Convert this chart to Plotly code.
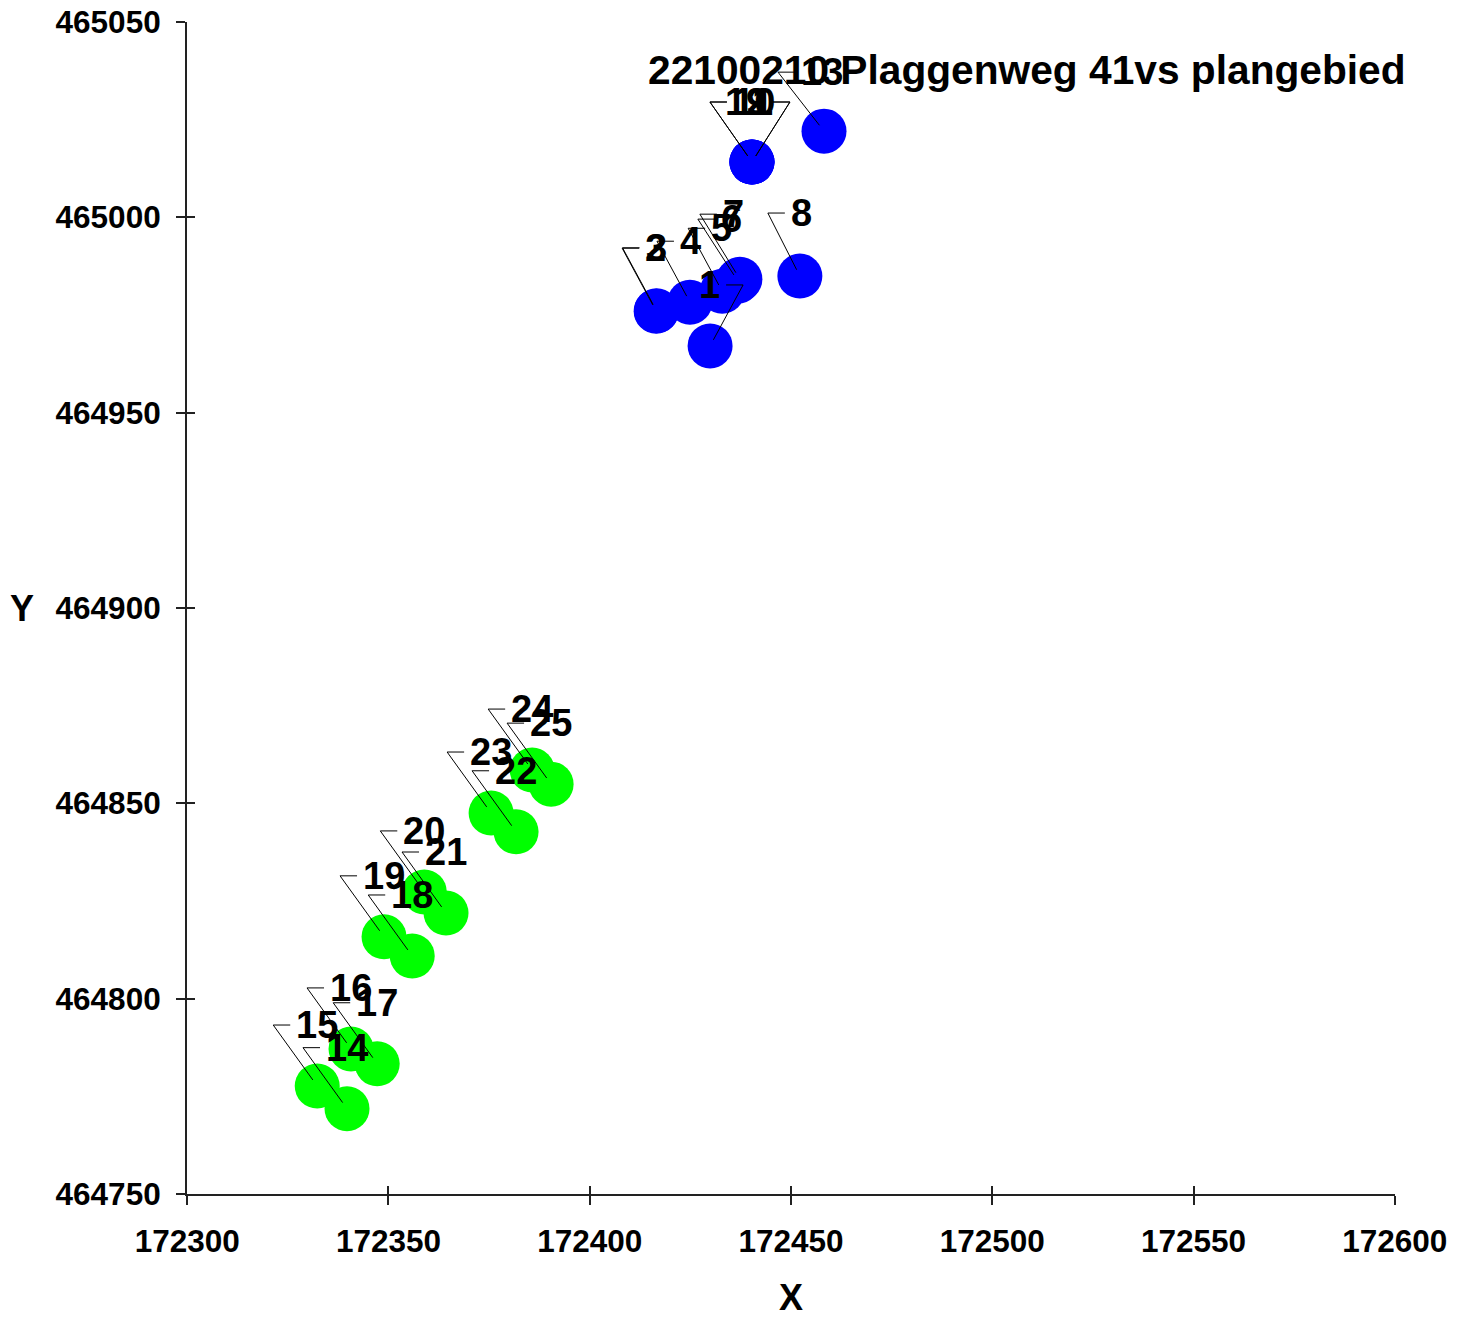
import plotly.graph_objects as go

# ---------------- data ----------------
blue_ids = [1, 2, 3, 4, 5, 6, 7, 8, 9, 10, 11, 12, 13]
blue_x = [172429.9, 172416.5, 172416.6, 172424.9, 172432.9, 172436.8, 172437.3,
          172452.2, 172440.3, 172440.3, 172440.3, 172440.3, 172458.2]
blue_y = [464967.1, 464976.0, 464976.1, 464978.3, 464981.1, 464983.7, 464984.2,
          464985.0, 465014.2, 465014.2, 465014.2, 465014.2, 465022.1]

green_ids = [14, 15, 16, 17, 18, 19, 20, 21, 22, 23, 24, 25]
green_x = [172339.7, 172332.3, 172340.7, 172347.2, 172355.9, 172348.9,
           172358.9, 172364.3, 172381.7, 172375.5, 172385.7, 172390.4]
green_y = [464771.8, 464777.6, 464787.1, 464783.3, 464810.9, 464815.8,
           464827.3, 464821.9, 464842.7, 464847.5, 464858.5, 464854.9]

x_ticks = [172300, 172350, 172400, 172450, 172500, 172550, 172600]
y_ticks = [464750, 464800, 464850, 464900, 464950, 465000, 465050]
title_text = "22100210 Plaggenweg 41vs plangebied"
x_title = "X"
y_title = "Y"

# ---------------- label leader styling (pixel offsets of the elbow) ----------------
# (dx right, dy up, side: +1 text to the right, -1 text to the left)
GREEN_LEADER = (-44, 61, 1)
BLUE_LEADER = {
    1: (33, 61, -1),
    2: (-34, 63, 1),
    3: (-34, 63, 1),
    4: (-33, 61, 1),
    5: (-34, 63, 1),
    6: (-40, 62, 1),
    7: (-40, 65, 1),
    8: (-32, 63, 1),
    9: (38, 60, -1),
    10: (-42, 60, 1),
    11: (-42, 60, 1),
    12: (38, 60, -1),
    13: (-46, 59, 1),
}

FONT = "Liberation Sans, Arial, sans-serif"
label_font = dict(family=FONT, size=38, color="black", weight="bold")

fig = go.Figure()
fig.add_trace(go.Scatter(
    x=blue_x, y=blue_y, mode="markers",
    marker=dict(color="#0000FF", size=45, line=dict(width=0)),
    showlegend=False, hoverinfo="skip"))
fig.add_trace(go.Scatter(
    x=green_x, y=green_y, mode="markers",
    marker=dict(color="#00FF00", size=45, line=dict(width=0)),
    showlegend=False, hoverinfo="skip"))
# helper trace for the inner half of the crossing ticks
fig.add_trace(go.Scatter(x=[None], y=[None], xaxis="x2", yaxis="y2",
                         showlegend=False, hoverinfo="skip"))

shapes = []
annotations = []


def add_label(pid, px, py, style):
    dx, dy, side = style
    hlen = 17
    path = (f"M {dx * 0.1:.1f},{dy * 0.1:.1f} L {dx},{dy} "
            f"L {dx + side * hlen},{dy}")
    shapes.append(dict(type="path", xref="x", yref="y",
                       xsizemode="pixel", ysizemode="pixel",
                       xanchor=px, yanchor=py, path=path,
                       line=dict(color="black", width=1)))
    annotations.append(dict(x=px, y=py, xref="x", yref="y", text=str(pid),
                            showarrow=False,
                            xanchor="left" if side > 0 else "right",
                            yanchor="middle",
                            xshift=dx + side * 21, yshift=dy,
                            font=label_font))


for pid, px, py in zip(blue_ids, blue_x, blue_y):
    add_label(pid, px, py, BLUE_LEADER[pid])
for pid, px, py in zip(green_ids, green_x, green_y):
    add_label(pid, px, py, GREEN_LEADER)

annotations.append(dict(x=0.38, y=0.959, xref="paper", yref="paper",
                        text=title_text, showarrow=False, xanchor="left",
                        yanchor="middle",
                        font=dict(family=FONT, size=40.7, color="black", weight="bold")))
annotations.append(dict(x=0.5, y=-0.0887, xref="paper", yref="paper",
                        text=x_title, showarrow=False, xanchor="center",
                        yanchor="middle",
                        font=dict(family=FONT, size=36, color="black", weight="bold")))
annotations.append(dict(x=-0.1366, y=0.5, xref="paper", yref="paper",
                        text=y_title, showarrow=False, xanchor="center",
                        yanchor="middle",
                        font=dict(family=FONT, size=36, color="black", weight="bold")))

tick_font = dict(family=FONT, size=31.5, color="black", weight="bold")
pad = 0.05  # tiny range padding so the end ticks are never dropped by rounding
x_range = [x_ticks[0] - pad, x_ticks[-1] + pad]
y_range = [y_ticks[0] - pad, y_ticks[-1] + pad]

fig.update_layout(
    width=1466, height=1319, autosize=False,
    margin=dict(l=179, r=79, t=14, b=133, autoexpand=False),
    paper_bgcolor="white", plot_bgcolor="white",
    shapes=shapes, annotations=annotations,
    xaxis=dict(range=x_range, tickvals=x_ticks, ticktext=[str(v) for v in x_ticks],
               showgrid=False, zeroline=False, showline=True, automargin=False,
               linecolor="#222222", linewidth=2, ticks="outside", ticklen=9,
               tickwidth=2, tickcolor="#222222", tickfont=tick_font,
               ticklabelstandoff=9, ticklabeloverflow="allow"),
    yaxis=dict(range=y_range, tickvals=y_ticks, ticktext=[str(v) for v in y_ticks],
               showgrid=False, zeroline=False, showline=True, automargin=False,
               linecolor="#222222", linewidth=2, ticks="outside", ticklen=9,
               tickwidth=2, tickcolor="#222222", tickfont=tick_font,
               ticklabelstandoff=9, ticklabeloverflow="allow"),
    xaxis2=dict(range=x_range, tickvals=x_ticks, overlaying="x", anchor="y2",
                showgrid=False, zeroline=False, showline=False, automargin=False,
                ticks="inside", ticklen=8, tickwidth=2, tickcolor="#222222",
                showticklabels=False),
    yaxis2=dict(range=y_range, tickvals=y_ticks, overlaying="y", anchor="x2",
                showgrid=False, zeroline=False, showline=False, automargin=False,
                ticks="inside", ticklen=8, tickwidth=2, tickcolor="#222222",
                showticklabels=False),
)

fig.write_html("out.html")
